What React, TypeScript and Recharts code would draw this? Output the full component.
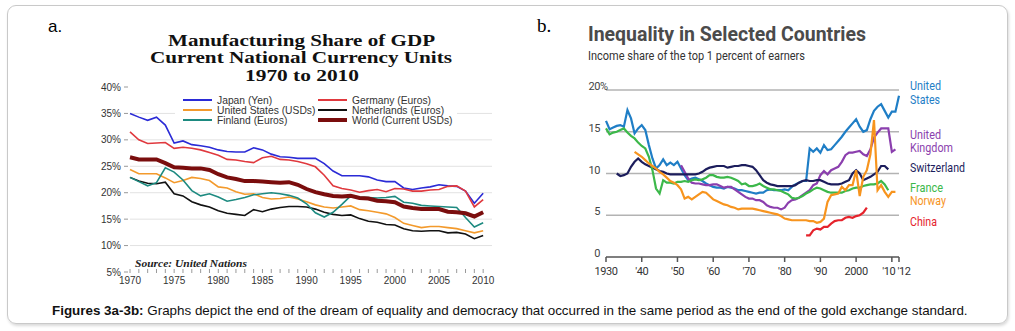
import React from 'react';
import { LineChart, Line, XAxis, YAxis, CartesianGrid, Legend } from 'recharts';

// ---- Figure 3a: manufacturing share of GDP (UN data), 1970-2010 ----
const mfgYears = [
  1970, 1971, 1972, 1973, 1974, 1975, 1976, 1977, 1978, 1979,
  1980, 1981, 1982, 1983, 1984, 1985, 1986, 1987, 1988, 1989,
  1990, 1991, 1992, 1993, 1994, 1995, 1996, 1997, 1998, 1999,
  2000, 2001, 2002, 2003, 2004, 2005, 2006, 2007, 2008, 2009, 2010,
];
const japanShare = [
  35.0, 34.3, 33.7, 34.3, 32.8, 29.4, 29.8, 29.1, 28.9, 28.6,
  28.1, 27.8, 27.7, 27.7, 28.5, 28.1, 27.3, 26.8, 26.7, 26.5,
  26.5, 26.5, 25.5, 24.1, 23.2, 23.2, 23.2, 23.0, 22.4, 22.1,
  22.1, 20.9, 20.6, 20.9, 21.1, 21.5, 21.3, 21.2, 20.3, 18.0, 19.9,
];
const germanyShare = [
  31.5, 30.0, 29.3, 29.4, 29.5, 28.4, 28.6, 28.4, 28.1, 27.6,
  27.1, 26.3, 26.2, 25.9, 25.7, 26.6, 26.9, 26.3, 26.2, 25.9,
  25.5, 24.9, 23.3, 21.3, 20.8, 20.5, 20.1, 20.4, 20.6, 20.2,
  20.8, 20.7, 20.3, 20.3, 20.5, 20.6, 21.2, 21.3, 20.3, 17.3, 18.7,
];
const usMfgShare = [
  24.4, 23.6, 23.6, 23.6, 22.8, 21.9, 22.3, 22.9, 22.7, 22.3,
  21.1, 20.9, 20.2, 19.7, 19.8, 19.1, 18.8, 18.9, 19.2, 18.8,
  18.3, 17.7, 17.3, 17.1, 17.3, 17.5, 16.8, 16.6, 16.3, 16.0,
  15.3, 14.2, 13.8, 13.4, 13.6, 13.6, 13.4, 13.2, 12.8, 12.4, 12.8,
];
const netherlandsShare = [
  22.9, 22.2, 21.8, 21.7, 22.0, 19.8, 19.4, 18.3, 17.7, 17.3,
  16.6, 16.1, 15.9, 15.7, 16.8, 16.4, 16.9, 17.2, 17.4, 17.4,
  17.3, 16.9, 16.3, 15.9, 15.7, 15.8, 15.1, 14.6, 14.4, 14.0,
  13.9, 13.2, 12.8, 12.7, 12.8, 12.8, 12.4, 12.5, 12.2, 11.3, 11.9,
];
const finlandShare = [
  22.9, 22.1, 21.3, 21.9, 24.7, 23.9, 22.4, 20.4, 19.4, 19.8,
  19.2, 18.4, 18.7, 19.1, 19.6, 19.8, 20.0, 19.8, 19.5, 19.0,
  17.9, 16.2, 15.4, 16.3, 17.8, 19.4, 19.2, 19.1, 19.0, 19.1,
  19.3, 18.2, 18.0, 17.6, 17.5, 17.4, 17.3, 17.2, 15.3, 13.5, 14.3,
];
const worldShare = [
  26.7, 26.3, 26.3, 26.3, 25.6, 24.8, 24.7, 24.6, 24.6, 24.3,
  23.5, 22.9, 22.6, 22.2, 22.2, 22.1, 22.0, 21.9, 22.0, 21.5,
  20.7, 20.1, 19.7, 19.4, 19.3, 19.4, 19.0, 18.9, 18.5, 18.4,
  18.2, 17.4, 17.1, 16.9, 16.9, 16.9, 16.4, 16.3, 16.1, 15.5, 16.3,
];
const mfgYTicks = [5, 10, 15, 20, 25, 30, 35, 40];
const mfgGridValues = [10, 15, 20, 25, 30, 35];

const mfgSeries = [
  { key: 'japan', name: 'Japan (Yen)', color: '#2b2bd6', width: 1.6 },
  { key: 'germany', name: 'Germany (Euros)', color: '#e0393e', width: 1.6 },
  { key: 'us', name: 'United States (USDs)', color: '#f39a2c', width: 1.6 },
  { key: 'netherlands', name: 'Netherlands (Euros)', color: '#111111', width: 1.6 },
  { key: 'finland', name: 'Finland (Euros)', color: '#1d8a80', width: 1.6 },
  { key: 'world', name: 'World (Current USDs)', color: '#7a0d0d', width: 4 },
];

const mfgData = mfgYears.map((year, i) => ({
  year,
  japan: japanShare[i],
  germany: germanyShare[i],
  us: usMfgShare[i],
  netherlands: netherlandsShare[i],
  finland: finlandShare[i],
  world: worldShare[i],
}));

// ---- Figure 3b: income share of the top 1 percent ----
const ineqYears = [
  1930, 1931, 1932, 1933, 1934, 1935, 1936, 1937, 1938, 1939,
  1940, 1941, 1942, 1943, 1944, 1945, 1946, 1947, 1948, 1949,
  1950, 1951, 1952, 1953, 1954, 1955, 1956, 1957, 1958, 1959,
  1960, 1961, 1962, 1963, 1964, 1965, 1966, 1967, 1968, 1969,
  1970, 1971, 1972, 1973, 1974, 1975, 1976, 1977, 1978, 1979,
  1980, 1981, 1982, 1983, 1984, 1985, 1986, 1987, 1988, 1989,
  1990, 1991, 1992, 1993, 1994, 1995, 1996, 1997, 1998, 1999,
  2000, 2001, 2002, 2003, 2004, 2005, 2006, 2007, 2008, 2009,
  2010, 2011, 2012,
];
const usStart = 1930;
const usTop1 = [
  16.3, 15.3, 15.5, 15.7, 15.8, 15.6, 17.6, 16.6, 14.8, 15.4,
  15.8, 15.2, 13.4, 11.8, 10.6, 11.0, 11.7, 11.0, 11.3, 11.0,
  11.4, 10.6, 9.8, 9.2, 9.4, 9.5, 9.3, 9.1, 8.8, 8.6,
  8.4, 8.3, 8.3, 8.2, 8.4, 8.3, 8.2, 8.0, 8.0, 7.9,
  7.8, 7.7, 7.6, 7.7, 7.7, 8.0, 8.1, 8.0, 8.0, 8.0,
  8.1, 8.0, 8.4, 8.7, 8.9, 9.1, 9.1, 13.0, 12.6, 13.0,
  12.5, 13.4, 12.8, 12.9, 13.4, 13.9, 14.4, 15.0, 15.5, 16.0,
  16.5, 15.6, 15.0, 15.2, 16.5, 17.5, 18.0, 18.3, 17.5, 16.7,
  17.4, 17.4, 19.3,
];
const ukStart = 1951;
const ukTop1 = [
  11.0, 10.2, 9.4, 8.9, 8.8, 8.8, 8.7, 8.6, 8.6,
  8.7, 8.7, 8.5, 8.3, 8.4, 8.4, 8.1, 7.8, 7.5, 7.2,
  7.0, 7.0, 6.8, 6.8, 6.6, 6.2, 6.0, 5.9, 5.9, 5.7,
  5.9, 6.5, 6.8, 6.9, 7.1, 7.4, 7.7, 8.0, 8.6, 8.8,
  9.8, 10.3, 9.9, 10.4, 10.6, 10.8, 11.4, 12.2, 12.5, 12.5,
  12.6, 12.7, 12.3, 12.1, 12.9, 14.3, 14.9, 15.4, 15.4, 15.4,
  12.6, 12.9,
];
const swissStart = 1933;
const swissTop1 = [
  10.0, 9.7, 9.8, 10.0, 10.8, 11.4, 11.8,
  11.4, 11.1, 10.9, 10.7, 10.5, 10.3, 10.2, 10.0, 9.9, 9.9,
  9.9, 9.9, 9.9, 9.9, 9.9, 9.9, 10.0, 10.2, 10.5, 10.7,
  10.8, 10.9, 10.9, 10.9, 10.7, 10.8, 10.9, 10.9, 11.0, 11.0,
  10.9, 10.8, 10.4, 9.8, 9.2, 8.9, 8.7, 8.6, 8.5, 8.5,
  8.5, 8.5, 8.5, 8.6, 8.9, 9.1, 9.2, 9.1, 9.1, 9.2,
  9.2, 9.0, 8.8, 8.7, 8.7, 8.7, 8.8, 9.0, 9.2, 10.0,
  10.4, 10.0, 9.2, 9.4, 9.6, 9.9, 10.2, 10.9, 10.9, 10.5,
];
const franceStart = 1930;
const franceTop1 = [
  15.4, 14.7, 14.9, 15.0, 15.2, 15.4, 14.9, 14.5, 14.2, 13.7,
  13.3, 13.0, 12.0, 10.4, 8.2, 7.6, 9.2, 8.9, 8.9, 8.8,
  9.0, 9.0, 9.1, 9.0, 9.2, 9.3, 9.2, 9.3, 9.5, 9.8,
  9.8, 9.6, 9.5, 9.5, 9.6, 9.5, 9.3, 9.1, 8.7, 8.8,
  8.5, 8.5, 8.6, 8.8, 8.5, 8.3, 8.1, 8.1, 8.0, 7.9,
  7.7, 7.5, 7.1, 7.0, 7.1, 7.3, 7.6, 7.8, 8.1, 8.3,
  8.2, 8.0, 7.8, 7.7, 7.7, 7.7, 7.7, 7.9, 8.0, 8.2,
  8.3, 8.3, 8.5, 8.6, 8.7, 8.7, 8.8, 9.1, 8.7, 8.0,
];
const norwayStart = 1938;
const norwayTop1 = [
  12.6, 12.3,
  12.0, 11.6, 11.2, 10.9, 10.6, 10.2, 9.9, 9.5, 9.1, 8.9,
  8.6, 8.1, 7.0, 7.2, 6.9, 7.2, 7.5, 7.8, 7.7, 7.3,
  6.9, 6.7, 6.5, 6.3, 6.2, 6.0, 5.9, 5.7, 5.8, 5.8,
  5.8, 5.8, 5.7, 5.6, 5.5, 5.4, 5.3, 5.2, 5.1, 4.9,
  4.6, 4.5, 4.4, 4.4, 4.4, 4.4, 4.4, 4.3, 4.3, 4.1,
  4.2, 4.6, 6.6, 7.4, 7.5, 7.6, 8.4, 8.0, 8.6, 8.6,
  10.4, 7.3, 9.6, 10.4, 12.3, 16.4, 8.0, 8.6, 7.8, 7.2,
  7.8, 7.8,
];
const chinaStart = 1986;
const chinaTop1 = [
  2.6, 2.6, 3.2, 3.4, 3.3, 3.6, 3.6, 4.0, 4.3, 4.4,
  4.4, 4.7, 4.8, 4.7, 4.9, 5.0, 5.3, 5.9,
];
const ineqXTicks = [1930, 1940, 1950, 1960, 1970, 1980, 1990, 2000, 2010, 2012];
const ineqXLabels = ['1930', "'40", "'50", "'60", "'70", "'80", "'90", '2000', "'10", "'12"];
const ineqYTicks = [0, 5, 10, 15, 20];
const ineqGridValues = [5, 10, 15, 20];

const ineqSeries = [
  { key: 'us', color: '#1f7ec6' },
  { key: 'uk', color: '#8b3fae' },
  { key: 'swiss', color: '#1c1d5c' },
  { key: 'france', color: '#3cb84a' },
  { key: 'norway', color: '#f7941e' },
  { key: 'china', color: '#e5232c' },
];

const pick = (arr: number[], start: number, year: number) => {
  const v = arr[year - start];
  return v === undefined ? null : v;
};

const ineqData = ineqYears.map((year) => ({
  year,
  us: pick(usTop1, usStart, year),
  uk: pick(ukTop1, ukStart, year),
  swiss: pick(swissTop1, swissStart, year),
  france: pick(franceTop1, franceStart, year),
  norway: pick(norwayTop1, norwayStart, year),
  china: pick(chinaTop1, chinaStart, year),
}));

const ARIAL = '"Liberation Sans", Arial, sans-serif';
const SERIF = '"Liberation Serif", "DejaVu Serif", serif';
const HUMAN = 'Roboto, "Open Sans", sans-serif';

// ---- tick renderers ----
const MfgXTick = (props: any) => {
  const { x, y, payload } = props;
  const yr = payload.value;
  return (
    <g>
      <line x1={x} x2={x} y1={y - 3} y2={y + 1} stroke="#9a9a9a" strokeWidth={1} />
      {yr % 5 === 0 && (
        <text x={x} y={y + 12} textAnchor="middle" fontSize={10} fill="#333" fontFamily={ARIAL}>
          {yr}
        </text>
      )}
    </g>
  );
};

const MfgYTick = (props: any) => {
  const { x, y, payload } = props;
  return (
    <g>
      <text x={x - 9} y={y + 3.5} textAnchor="end" fontSize={10} fill="#333" fontFamily={ARIAL}>
        {payload.value}%
      </text>
      <line x1={x - 6} x2={x - 2} y1={y} y2={y} stroke="#999" strokeWidth={1} />
    </g>
  );
};

const IneqXTick = (props: any) => {
  const { x, y, payload } = props;
  const i = ineqXTicks.indexOf(payload.value);
  const shift = payload.value === 2010 ? -3 : payload.value === 2012 ? 5 : 0;
  return (
    <text x={x + shift} y={y + 13} textAnchor="middle" fontSize={11} fill="#333" fontFamily={HUMAN} letterSpacing={-0.4}>
      {ineqXLabels[i]}
    </text>
  );
};

const IneqYTick = (props: any) => {
  const { x, y, payload } = props;
  return (
    <g fontSize={11} fill="#444" fontFamily={HUMAN} letterSpacing={-0.4}>
      <text x={x - 6} y={y} textAnchor="end">{payload.value}</text>
      {payload.value === 20 && <text x={x - 6} y={y}>%</text>}
    </g>
  );
};

const MfgLegend = () => (
  <svg width={282} height={34} style={{ display: 'block', overflow: 'visible' }}>
    {mfgSeries.map((s, i) => {
      const col = i % 2;
      const row = Math.floor(i / 2);
      const lx = col === 0 ? 8 : 143;
      const ly = 7 + row * 10;
      return (
        <g key={s.key}>
          <line x1={lx} x2={lx + 29} y1={ly} y2={ly} stroke={s.color} strokeWidth={s.width === 4 ? 4 : 2} />
          <text x={lx + 34} y={ly + 3.5} fontSize={10.3} fill="#333" fontFamily={ARIAL}>
            {s.name}
          </text>
        </g>
      );
    })}
  </svg>
);

export default function App() {
  return (
    <div style={{ position: 'absolute', left: 0, top: 0, width: 1015, height: 331, background: '#fff', overflow: 'hidden' }}>
      <div
        style={{
          position: 'absolute', left: 7, top: 5, width: 999, height: 317,
          border: '1.5px solid #c9c9c9', borderRadius: 9, boxShadow: '1px 2px 3px rgba(0,0,0,0.15)',
        }}
      />

      <div style={{ position: 'absolute', left: 0, top: 0 }}>
        <LineChart width={520} height={300} data={mfgData} margin={{ top: 87, right: 28, bottom: 8, left: 100 }}>
          <CartesianGrid vertical={false} stroke="#e2e2e2" horizontalValues={mfgGridValues} />
          <XAxis
            dataKey="year" type="number" domain={[1970, 2011]} ticks={mfgYears} interval={0}
            height={20} tickSize={0} tickMargin={0} axisLine={false} tickLine={false} tick={<MfgXTick />}
          />
          <YAxis
            type="number" domain={[5, 40]} ticks={mfgYTicks} interval={0} width={30}
            tickSize={0} tickMargin={0} axisLine={false} tickLine={false} tick={<MfgYTick />}
          />
          <Legend
            layout="horizontal" verticalAlign="middle" align="center" content={<MfgLegend />}
            wrapperStyle={{ left: 175, top: 93, width: 282, height: 34, background: '#fff' }}
          />
          {mfgSeries.map((s) => (
            <Line
              key={s.key} type="linear" dataKey={s.key} name={s.name} stroke={s.color}
              strokeWidth={s.width} dot={false} isAnimationActive={false}
            />
          ))}
        </LineChart>
      </div>

      <div style={{ position: 'absolute', left: 520, top: 0 }}>
        <LineChart width={495} height={300} data={ineqData} margin={{ top: 90, right: 116, bottom: 18, left: 56 }}>
          <CartesianGrid vertical={false} stroke="#b3b3b3" strokeWidth={1.5} horizontalValues={ineqGridValues} />
          <XAxis
            dataKey="year" type="number" domain={[1930, 2012]} ticks={ineqXTicks} interval={0}
            height={25} tickSize={5} tickMargin={0} stroke="#555" strokeWidth={1.5} tick={<IneqXTick />}
          />
          <YAxis
            type="number" domain={[0, 20]} ticks={ineqYTicks} interval={0} width={30}
            tickSize={0} tickMargin={0} axisLine={false} tickLine={false} tick={<IneqYTick />}
          />
          {ineqSeries.map((s) => (
            <Line
              key={s.key} type="linear" dataKey={s.key} stroke={s.color} strokeWidth={2.2}
              dot={false} isAnimationActive={false}
            />
          ))}
        </LineChart>
      </div>

      <svg width={1015} height={331} style={{ position: 'absolute', left: 0, top: 0, pointerEvents: 'none' }}>
        <text x={48} y={32} fontSize={17} fontFamily={ARIAL} fill="#000">a.</text>
        <text x={537} y={32} fontSize={19} fontFamily={SERIF} fill="#000">b.</text>

        <g fontFamily={SERIF} fontWeight="bold" fontSize={16} fill="#111">
          <text x={168} y={45.5} textLength={267} lengthAdjust="spacingAndGlyphs">Manufacturing Share of GDP</text>
          <text x={150} y={63} textLength={302} lengthAdjust="spacingAndGlyphs">Current National Currency Units</text>
          <text x={245} y={80.5} textLength={114} lengthAdjust="spacingAndGlyphs">1970 to 2010</text>
        </g>
        <text x={135} y={266.5} fontFamily={SERIF} fontWeight="bold" fontStyle="italic" fontSize={10.5} fill="#222" textLength={112} lengthAdjust="spacingAndGlyphs">
          Source: United Nations
        </text>

        <text x={588} y={40.5} fontFamily={HUMAN} fontWeight="bold" fontSize={19.5} fill="#4b4b4b" textLength={278} lengthAdjust="spacingAndGlyphs">
          Inequality in Selected Countries
        </text>
        <text x={588} y={60} fontFamily={HUMAN} fontSize={12.5} fill="#333" textLength={217} lengthAdjust="spacingAndGlyphs">
          Income share of the top 1 percent of earners
        </text>

        <g fontFamily={HUMAN} fontSize={13}>
          <text x={910} y={90} fill="#1f7ec6" textLength={31} lengthAdjust="spacingAndGlyphs">United</text>
          <text x={910} y={104} fill="#1f7ec6" textLength={30} lengthAdjust="spacingAndGlyphs">States</text>
          <text x={910} y={139} fill="#8b3fae" textLength={31} lengthAdjust="spacingAndGlyphs">United</text>
          <text x={910} y={152} fill="#8b3fae" textLength={43} lengthAdjust="spacingAndGlyphs">Kingdom</text>
          <text x={910} y={172} fill="#1c1d5c" textLength={55} lengthAdjust="spacingAndGlyphs">Switzerland</text>
          <text x={910} y={191.5} fill="#3cb84a" textLength={33} lengthAdjust="spacingAndGlyphs">France</text>
          <text x={910} y={205} fill="#f7941e" textLength={36} lengthAdjust="spacingAndGlyphs">Norway</text>
          <text x={910} y={225.5} fill="#e5232c" textLength={27} lengthAdjust="spacingAndGlyphs">China</text>
        </g>

        <text x={52} y={315} fontFamily={ARIAL} fontSize={13.4} fill="#111">
          <tspan fontWeight="bold">Figures 3a-3b:</tspan>
          <tspan> Graphs depict the end of the dream of equality and democracy that occurred in the same period as the end of the gold exchange standard.</tspan>
        </text>
      </svg>
    </div>
  );
}
